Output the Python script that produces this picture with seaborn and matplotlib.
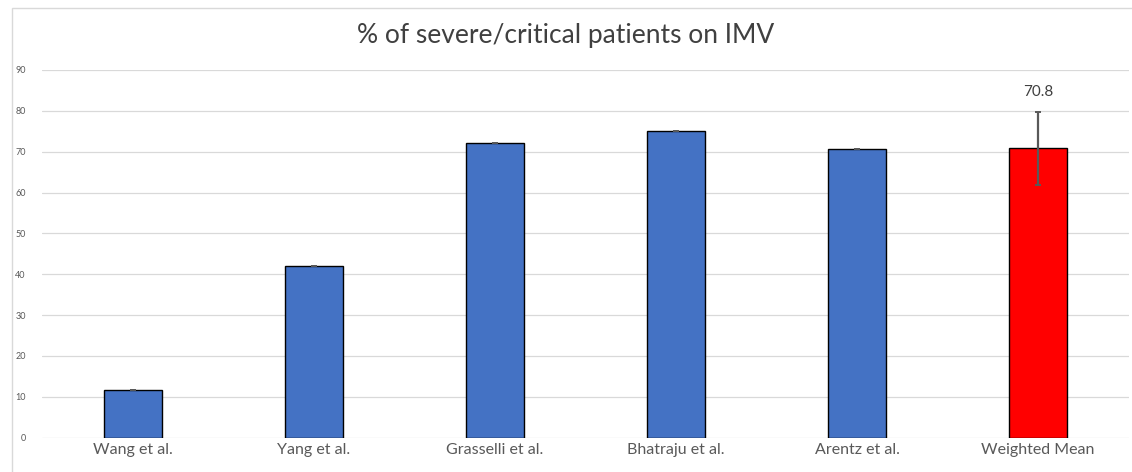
import matplotlib

matplotlib.use("Agg")

import matplotlib.pyplot as plt
import numpy as np
import pandas as pd
import seaborn as sns
from matplotlib.patches import Rectangle


studies = ["Wang et al.", "Yang et al.", "Grasselli et al.", "Bhatraju et al.", "Arentz et al.", "Weighted Mean"]
pct_imv = [11.7, 42.1, 72.2, 75.1, 70.7, 70.8]
errors = [0, 0, 0, 0, 0, 8.9]
bar_colors = ["#4472C4"] * 5 + ["#FF0000"]
y_ticks = list(range(0, 100, 10))

df = pd.DataFrame({"study": studies, "pct": pct_imv})

sns.set_style("white")
plt.rcParams["font.family"] = ["Lato", "DejaVu Sans"]

fig = plt.figure(figsize=(11.32, 4.72), dpi=100)
ax = fig.add_axes([0.0375, 0.0727, 0.9595, 0.779])

sns.barplot(
    data=df, x="study", y="pct", hue="study", palette=bar_colors, legend=False,
    width=0.32, saturation=1, edgecolor="black", linewidth=1.0, ax=ax, zorder=3,
)
xs = np.arange(len(studies))
ax.errorbar(xs, pct_imv, yerr=errors, fmt="none", ecolor="#595959",
            elinewidth=1.6, capsize=2, capthick=1.4, zorder=4)

ax.text(xs[-1], pct_imv[-1] + errors[-1] + 5, f"{pct_imv[-1]:.1f}",
        ha="center", va="center", fontsize=11, color="#404040")

ax.set_ylim(0, 90)
ax.set_xlim(-0.5, len(studies) - 0.5)
ax.set_yticks(y_ticks)
ax.yaxis.grid(True, color="#D9D9D9", linewidth=0.9, zorder=0)
ax.set_axisbelow(True)
ax.tick_params(axis="y", labelsize=6.5, labelcolor="#595959", length=0, pad=12)
ax.tick_params(axis="x", labelsize=11.5, labelcolor="#595959", length=0, pad=4)
ax.set_xlabel("")
ax.set_ylabel("")
for spine in ax.spines.values():
    spine.set_visible(False)

fig.text(0.5, 0.925, "% of severe/critical patients on IMV",
         ha="center", va="center", fontsize=19, color="#404040")

fig.patches.append(Rectangle((0.011, -0.01), 0.995, 0.993, transform=fig.transFigure,
                             fill=False, edgecolor="#D9D9D9", linewidth=1.0))

fig.savefig("out.png", dpi=100)
